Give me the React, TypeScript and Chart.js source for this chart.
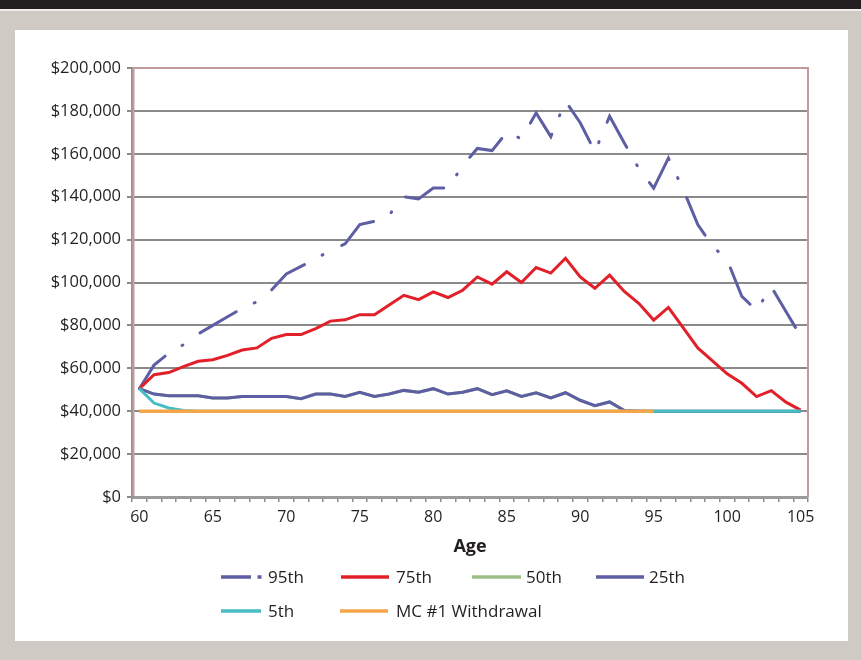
import { useEffect, useRef } from 'react';
import { Chart, registerables } from 'chart.js';

Chart.register(...registerables);

const ages = ['60','61','62','63','64','65','66','67','68','69','70','71','72','73','74','75','76','77','78','79','80','81','82','83','84','85','86','87','88','89','90','91','92','93','94','95','96','97','98','99','100','101','102','103','104','105'];

const p95 = [50500, 61500, 67000, 71000, 76000, 80000, 84000, 88000, 91000, 96500, 104000, 107500, 111000, 115000, 118000, 127000, 128500, 131500, 140000, 139000, 144000, 144000, 154500, 162500, 161500, 170000, 167000, 179000, 168000, 184500, 174500, 161000, 177500, 165000, 153000, 144000, 158000, 143500, 127000, 117000, 110500, 93500, 87000, 98000, 86500, 75000];

const p75 = [50500, 57000, 58000, 60800, 63300, 64000, 66000, 68500, 69500, 74000, 75700, 75700, 78500, 82000, 82600, 85000, 85000, 89500, 94000, 92000, 95600, 93000, 96400, 102600, 99200, 105000, 100000, 107000, 104400, 111300, 102600, 97300, 103400, 95800, 90200, 82500, 88400, 79000, 69500, 63500, 57400, 53000, 46800, 49600, 44200, 40500];

const p50 = [50500, 48000, 47200, 47200, 47200, 46200, 46200, 46900, 46900, 46900, 46900, 45800, 48000, 48000, 46900, 48800, 46900, 48000, 49700, 48800, 50500, 48000, 48800, 50500, 47700, 49500, 46900, 48600, 46200, 48600, 45100, 42600, 44300, 40300, 40000, 40000, 40000, 40000, 40000, 40000, 40000, 40000, 40000, 40000, 40000, 40000];

const p25 = [50500, 48000, 47200, 47200, 47200, 46200, 46200, 46900, 46900, 46900, 46900, 45800, 48000, 48000, 46900, 48800, 46900, 48000, 49700, 48800, 50500, 48000, 48800, 50500, 47700, 49500, 46900, 48600, 46200, 48600, 45100, 42600, 44300, 40300, 40000, 40000, 40000, 40000, 40000, 40000, 40000, 40000, 40000, 40000, 40000, 40000];

const p5 = [50500, 43800, 41500, 40300, 40000, 40000, 40000, 40000, 40000, 40000, 40000, 40000, 40000, 40000, 40000, 40000, 40000, 40000, 40000, 40000, 40000, 40000, 40000, 40000, 40000, 40000, 40000, 40000, 40000, 40000, 40000, 40000, 40000, 40000, 40000, 40000, 40000, 40000, 40000, 40000, 40000, 40000, 40000, 40000, 40000, 40000];

const withdrawal = [40000, 40000, 40000, 40000, 40000, 40000, 40000, 40000, 40000, 40000, 40000, 40000, 40000, 40000, 40000, 40000, 40000, 40000, 40000, 40000, 40000, 40000, 40000, 40000, 40000, 40000, 40000, 40000, 40000, 40000, 40000, 40000, 40000, 40000, 40000, 40000, null, null, null, null, null, null, null, null, null, null];

const yTicks = [0, 20000, 40000, 60000, 80000, 100000, 120000, 140000, 160000, 180000, 200000];

const PURPLE = '#5d5ea3';
const RED = '#e2202a';
const GREEN = '#9cbf88';
const TEAL = '#46bdc3';
const ORANGE = '#f5a54a';
const TEXT = '#231f20';
const GRID = '#8a8a8a';
const FONT = '"Open Sans", "Noto Sans", sans-serif';
const DASH95 = [42, 20, 1, 21];

const legendLayout = [
  { label: '95th', color: PURPLE, row: 0, x0: 206, x1: 236, dot: 244.5, tx: 253 },
  { label: '75th', color: RED, row: 0, x0: 326, x1: 374, tx: 381 },
  { label: '50th', color: GREEN, row: 0, x0: 457, x1: 506, tx: 511 },
  { label: '25th', color: PURPLE, row: 0, x0: 581, x1: 629, tx: 634 },
  { label: '5th', color: TEAL, row: 1, x0: 206, x1: 246, tx: 253 },
  { label: 'MC #1 Withdrawal', color: ORANGE, row: 1, x0: 325, x1: 373, tx: 381 },
];

const framePlugin = {
  id: 'frame',
  beforeDatasetsDraw(chart: any) {
    const { ctx, chartArea: a } = chart;
    ctx.save();
    ctx.strokeStyle = '#c29c9c';
    ctx.lineWidth = 2;
    ctx.beginPath();
    ctx.moveTo(a.left + 1.5, a.bottom - 1);
    ctx.lineTo(a.left + 1.5, a.top);
    ctx.lineTo(a.right, a.top);
    ctx.lineTo(a.right, a.bottom);
    ctx.stroke();
    ctx.restore();
  },
  afterDraw(chart: any) {
    const { ctx } = chart;
    const rows = [547, 581];
    ctx.save();
    ctx.font = '17px ' + FONT;
    ctx.textBaseline = 'middle';
    ctx.textAlign = 'left';
    legendLayout.forEach((it) => {
      const y = rows[it.row];
      ctx.strokeStyle = it.color;
      ctx.lineWidth = 3.5;
      ctx.lineCap = 'butt';
      ctx.beginPath();
      ctx.moveTo(it.x0, y);
      ctx.lineTo(it.x1, y);
      ctx.stroke();
      if (it.dot) {
        ctx.fillStyle = it.color;
        ctx.fillRect(it.dot - 2, y - 1.75, 4, 3.5);
      }
      ctx.fillStyle = TEXT;
      ctx.fillText(it.label, it.tx, y + 1);
    });
    ctx.restore();
  },
};

export default function App() {
  const ref = useRef<HTMLCanvasElement | null>(null);

  useEffect(() => {
    if (!ref.current) return;
    const common = { pointRadius: 0, pointHoverRadius: 0, tension: 0, fill: false, spanGaps: false };
    const chart = new Chart(ref.current, {
      type: 'line',
      data: {
        labels: ages,
        datasets: [
          { ...common, label: '95th', data: p95, borderColor: PURPLE, backgroundColor: PURPLE, borderWidth: 3, borderDash: DASH95, borderCapStyle: 'round', order: 5 },
          { ...common, label: '75th', data: p75, borderColor: RED, backgroundColor: RED, borderWidth: 3, order: 4 },
          { ...common, label: '50th', data: p50, borderColor: GREEN, backgroundColor: GREEN, borderWidth: 3, order: 3 },
          { ...common, label: '25th', data: p25, borderColor: PURPLE, backgroundColor: PURPLE, borderWidth: 3, order: 2 },
          { ...common, label: '5th', data: p5, borderColor: TEAL, backgroundColor: TEAL, borderWidth: 3, order: 1 },
          { ...common, label: 'MC #1 Withdrawal', data: withdrawal, borderColor: ORANGE, backgroundColor: ORANGE, borderWidth: 3.5, order: 0 },
        ],
      } as any,
      options: {
        responsive: false,
        maintainAspectRatio: false,
        animation: false,
        devicePixelRatio: 1,
        layout: { padding: { top: 38, right: 40, left: 0, bottom: 0 } },
        plugins: {
          legend: { display: false },
          tooltip: { enabled: false },
          title: { display: false },
        },
        scales: {
          x: {
            type: 'category',
            offset: true,
            afterFit: (s: any) => { s.height = 144; },
            grid: { offset: true, drawOnChartArea: false, drawTicks: true, tickLength: 5, color: GRID, lineWidth: 1.5 },
            border: { display: true, color: '#9a9a9a', width: 3 },
            ticks: {
              autoSkip: false,
              maxRotation: 0,
              minRotation: 0,
              padding: 6,
              color: TEXT,
              font: { family: FONT, size: 16 },
              callback: (_v: any, i: number) => (i % 5 === 0 ? ages[i] : ''),
            },
            title: {
              display: true,
              text: 'Age',
              color: TEXT,
              font: { family: FONT, size: 18, weight: 'bold' },
              padding: { top: 0, bottom: 83 },
            },
          },
          y: {
            min: 0,
            max: 200000,
            afterFit: (s: any) => { s.width = 117; },
            afterBuildTicks: (s: any) => { s.ticks = yTicks.map((v) => ({ value: v })); },
            grid: { color: GRID, lineWidth: 2, tickLength: 5 },
            border: { display: true, color: '#949494', width: 3 },
            ticks: {
              padding: 6,
              color: TEXT,
              font: { family: FONT, size: 16.5 },
              callback: (v: any) => '$' + Number(v).toLocaleString('en-US'),
            },
          },
        },
      } as any,
      plugins: [framePlugin],
    });
    return () => chart.destroy();
  }, []);

  return (
    <div style={{ position: 'absolute', left: 0, top: 0, width: 861, height: 660, background: '#cfcbc4', overflow: 'hidden' }}>
      <div style={{ position: 'absolute', left: 0, top: 0, width: 861, height: 9, background: '#231f20' }} />
      <div style={{ position: 'absolute', left: 0, top: 9, width: 861, height: 2, background: '#eeedea' }} />
      <div style={{ position: 'absolute', left: 15, top: 30, width: 833, height: 611, background: '#ffffff' }}>
        <canvas ref={ref} width={833} height={611} style={{ display: 'block', width: 833, height: 611 }} />
      </div>
    </div>
  );
}
